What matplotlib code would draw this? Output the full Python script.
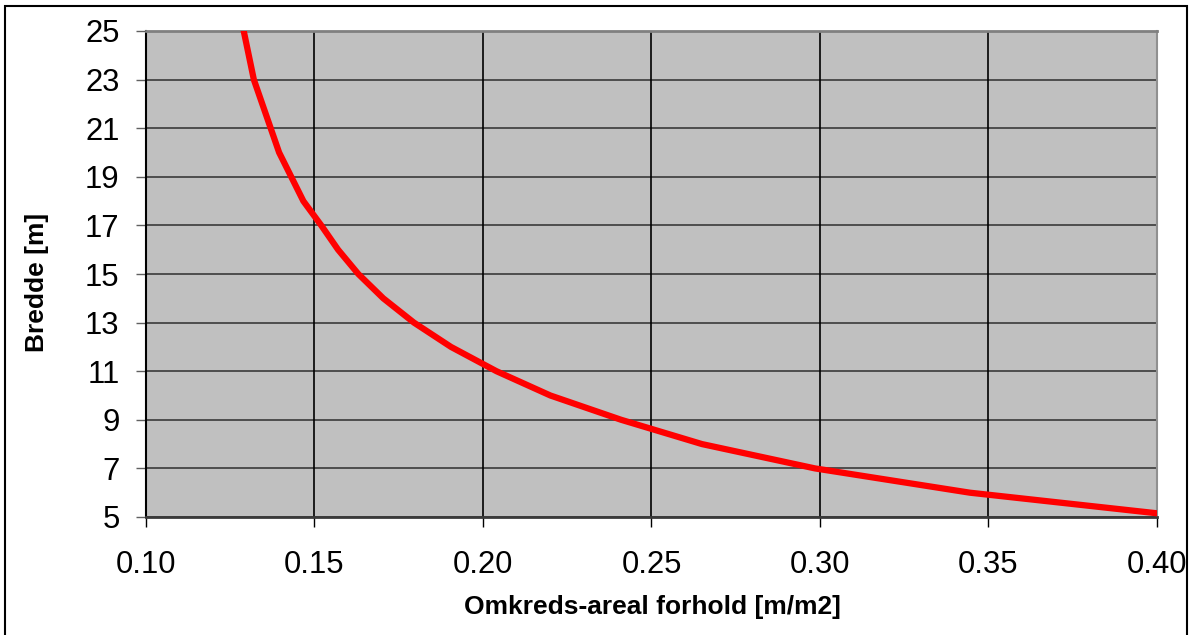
import numpy as np
import matplotlib
matplotlib.use("Agg")
import matplotlib.pyplot as plt
from matplotlib.patches import Rectangle

############################################
# data
############################################

bredde = [25, 23, 20, 18, 17, 16, 15, 14, 13, 12, 11, 10, 9, 8, 7, 6, 5]
forhold = [0.129, 0.132, 0.1395, 0.1467, 0.152, 0.157, 0.163, 0.1704,
           0.1795, 0.1905, 0.204, 0.220, 0.241, 0.265, 0.2985, 0.3445, 0.410]

x_ticks = [0.10, 0.15, 0.20, 0.25, 0.30, 0.35, 0.40]
y_ticks = [5, 7, 9, 11, 13, 15, 17, 19, 21, 23, 25]

############################################
# plot
############################################

plt.rcParams['font.family'] = ['Liberation Sans', 'DejaVu Sans']

fig = plt.figure(figsize=(11.91, 6.35), dpi=100)
ax = fig.add_axes([146/1191, 1-517/635, (1157-146)/1191, (517-31)/635])

ax.set_facecolor("#C0C0C0")
ax.plot(forhold, bredde, color="#FF0000", lw=4.5, solid_joinstyle="miter", zorder=3)

ax.set_xlim(0.10, 0.40)
ax.set_ylim(5, 25)
ax.set_xticks(x_ticks)
ax.set_yticks(y_ticks)
ax.set_xticklabels([f"{v:.2f}" for v in x_ticks])
ax.set_yticklabels([str(v) for v in y_ticks])

for v in y_ticks:
    ax.axhline(v, color="#3a3a3a", lw=1.2, zorder=1)
for v in x_ticks:
    ax.axvline(v, color="#000000", lw=1.2, zorder=1)

ax.spines["left"].set_color("black")
ax.spines["left"].set_linewidth(1.5)
ax.spines["bottom"].set_color("#3a3a3a")
ax.spines["bottom"].set_linewidth(2)
ax.spines["top"].set_color("#808080")
ax.spines["top"].set_linewidth(2)
ax.spines["right"].set_color("#909090")
ax.spines["right"].set_linewidth(1.5)

ax.tick_params(axis="both", direction="out", length=7, width=1, colors="black",
               labelsize=22.3)
ax.tick_params(axis="y", pad=12, color="#606060")
ax.tick_params(axis="x", pad=17)

fig.text(652/1191, 1-607/635, "Omkreds-areal forhold [m/m2]", ha="center",
         va="center", fontsize=19, fontweight="bold")
fig.text(37/1191, 1-282/635, "Bredde [m]", ha="center", va="center",
         rotation=90, fontsize=19, fontweight="bold")

fig.patches.append(Rectangle((5, -10), 1182, 635-6+10, transform=None,
                             fill=False, edgecolor="black", lw=1.5))

fig.savefig("out.png", dpi=100)
